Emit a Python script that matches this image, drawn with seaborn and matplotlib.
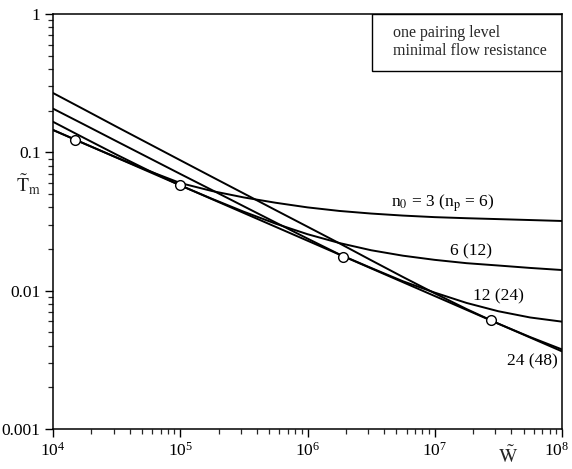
import numpy as np
import pandas as pd
import matplotlib
matplotlib.use("Agg")
import matplotlib.pyplot as plt
import matplotlib.ticker as mticker
import matplotlib.transforms as mtransforms
from matplotlib.patches import Rectangle
import seaborn as sns

# ---- data ----
W_grid = [1.0e4, 1.78e4, 3.16e4, 5.62e4, 1.0e5, 1.78e5, 3.16e5, 5.62e5,
          1.0e6, 1.78e6, 3.16e6, 5.62e6, 1.0e7, 1.78e7, 3.16e7, 5.62e7, 1.0e8]
T_n3 = [0.1452, 0.1151, 0.0918, 0.0736, 0.0600, 0.0525, 0.0472, 0.0432,
        0.0400, 0.0377, 0.0361, 0.0349, 0.0340, 0.0334, 0.0329, 0.0324, 0.0319]
T_n6 = [0.1663, 0.1262, 0.0962, 0.0740, 0.0577, 0.0461, 0.0372, 0.0305,
        0.0256, 0.0221, 0.0196, 0.0179, 0.0167, 0.0158, 0.0152, 0.0146, 0.0141]
T_n12 = [0.2070, 0.1578, 0.1202, 0.0916, 0.0698, 0.0533, 0.0407, 0.0311,
         0.0238, 0.0183, 0.0146, 0.0117, 0.00968, 0.00815, 0.00710, 0.00640, 0.00597]
T_n24 = [0.2685, 0.2028, 0.1531, 0.1159, 0.0877, 0.0664, 0.0504, 0.0382,
         0.0290, 0.0220, 0.0166, 0.01256, 0.00957, 0.00736, 0.00577, 0.00462, 0.00376]
# envelope (minimum) line and optimum points
W_env = [1.0e4, 1.0e8]
T_env = [0.145, 0.00364]
W_opt = [1.5e4, 1.0e5, 1.9e6, 2.75e7]
T_opt = [0.123, 0.058, 0.0176, 0.0061]

curve_labels = [r"n$_0$ = 3 (n$_\mathrm{p}$ = 6)", "6 (12)", "12 (24)", "24 (48)"]
label_W = [1.16e7, 1.92e7, 3.19e7, 5.8e7]
label_T = [0.0432, 0.0193, 0.00914, 0.0031]
box_lines = ["one pairing level", "minimal flow resistance"]

# ---- style ----
sns.set_theme(style="ticks")
plt.rcParams["font.family"] = ["Liberation Serif", "DejaVu Serif"]
plt.rcParams["mathtext.fontset"] = "stix"
plt.rcParams["axes.linewidth"] = 1.1
plt.rcParams["xtick.major.width"] = 1.0
plt.rcParams["ytick.major.width"] = 1.0
plt.rcParams["xtick.minor.width"] = 0.9
plt.rcParams["ytick.minor.width"] = 0.9

fig = plt.figure(figsize=(5.72, 4.69), dpi=100)
ax = fig.add_axes([53 / 572, 1 - 429 / 469, 509 / 572, 415 / 469])

frames = []
for name, vals in [("n3", T_n3), ("n6", T_n6), ("n12", T_n12), ("n24", T_n24)]:
    frames.append(pd.DataFrame({"W": W_grid, "T": vals, "curve": name}))
df = pd.concat(frames, ignore_index=True)
sns.lineplot(data=df, x="W", y="T", hue="curve", units="curve", estimator=None,
             palette=["black"] * 4, linewidth=1.4, legend=False, ax=ax, sort=True)

env = pd.DataFrame({"W": W_env, "T": T_env})
sns.lineplot(data=env, x="W", y="T", color="black", linewidth=1.4, ax=ax)
ax.plot(W_opt, T_opt, linestyle="none", marker="o", markersize=7,
        markerfacecolor="white", markeredgecolor="black", markeredgewidth=1.0, zorder=5)

ax.set_xscale("log")
ax.set_yscale("log")
ax.set_xlim(1e4, 1e8)
ax.set_ylim(1e-3, 1)

ax.yaxis.set_major_locator(mticker.FixedLocator([0.001, 0.01, 0.1, 1]))
ax.yaxis.set_major_formatter(mticker.FixedFormatter(["0.001", "0.01", "0.1", "1"]))
ax.yaxis.set_minor_locator(mticker.LogLocator(base=10, subs=np.arange(2, 10)))
ax.yaxis.set_minor_formatter(mticker.NullFormatter())
ax.xaxis.set_major_locator(mticker.LogLocator(base=10, numticks=10))
ax.xaxis.set_minor_locator(mticker.LogLocator(base=10, subs=np.arange(2, 10), numticks=20))
ax.xaxis.set_minor_formatter(mticker.NullFormatter())
ax.tick_params(axis="both", which="major", labelsize=12.5, length=6, direction="out",
               colors="black", pad=3)
ax.tick_params(axis="both", which="minor", length=3.5, direction="out")
ax.tick_params(top=False, right=False, which="both")
for s in ax.spines.values():
    s.set_visible(True)
    s.set_color("black")
ax.set_xlabel("")
ax.set_ylabel("")

# keep the last x tick label inside the picture
fig.canvas.draw()
xlabels = ax.get_xticklabels()
if xlabels:
    last = xlabels[-1]
    for lab in xlabels:
        if lab.get_text() and "8" in lab.get_text():
            last = lab
    last.set_transform(last.get_transform() +
                       mtransforms.ScaledTranslation(-5 / 100, 0, fig.dpi_scale_trans))

# axis labels
fig.text(28 / 572, 1 - 185 / 469, r"$\tilde{\mathrm{T}}_{\mathrm{m}}$", fontsize=14,
         ha="center", va="center")
fig.text(508 / 572, 1 - 456 / 469, r"$\tilde{\mathrm{W}}$", fontsize=14,
         ha="center", va="center")

# curve labels
for txt, xw, yt in zip(curve_labels, label_W, label_T):
    ax.text(xw, yt, txt, fontsize=12.5, ha="center", va="center", color="black")

# annotation box
ax.add_patch(Rectangle((0.627, 0.863), 0.373, 0.137, transform=ax.transAxes,
                       fill=False, edgecolor="black", linewidth=1.0, zorder=6))
ax.text(0.668, 0.955, box_lines[0], transform=ax.transAxes, fontsize=11.5,
        ha="left", va="center")
ax.text(0.668, 0.912, box_lines[1], transform=ax.transAxes, fontsize=11.5,
        ha="left", va="center")

fig.savefig("out.png", dpi=100, facecolor="white")
